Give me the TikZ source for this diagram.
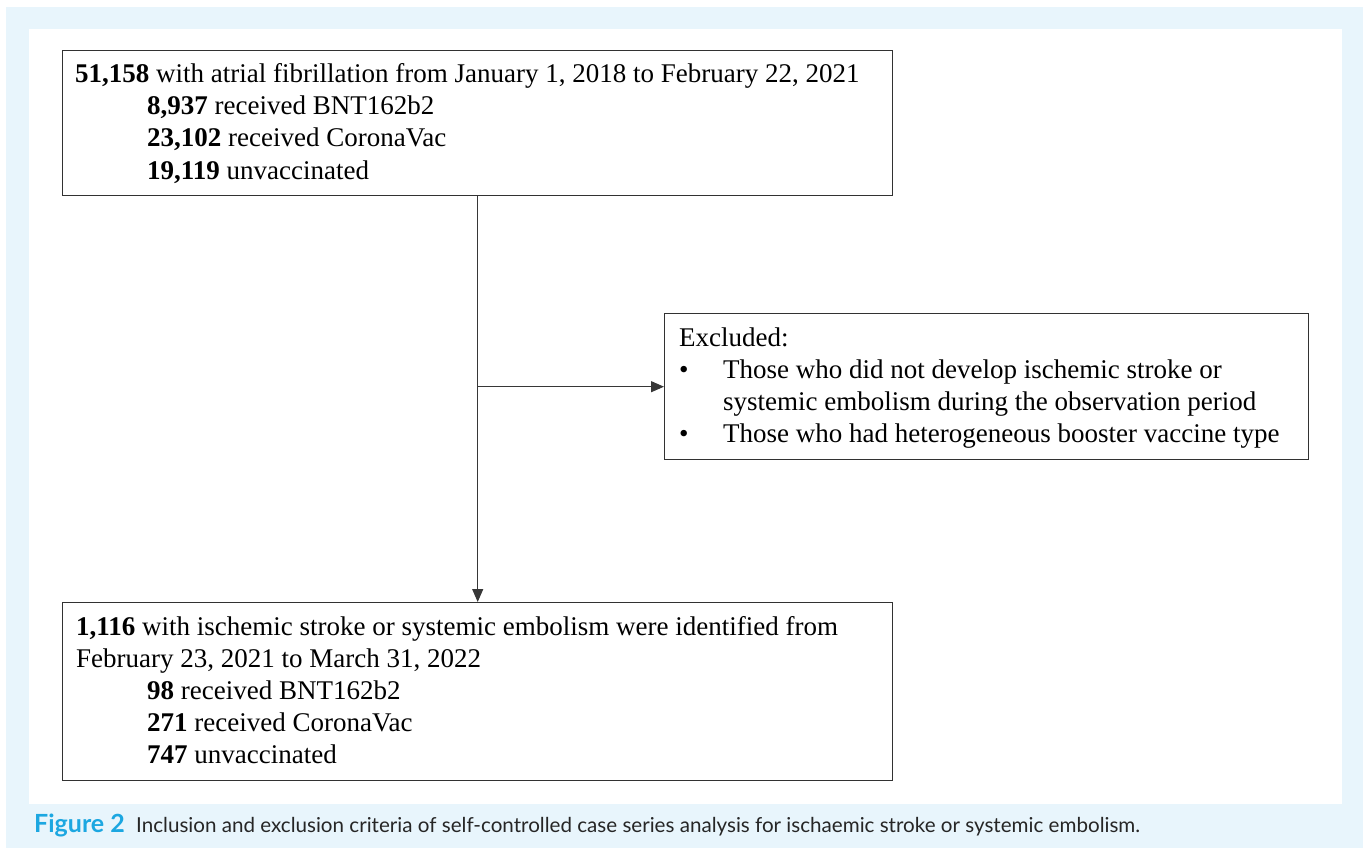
\documentclass[tikz,border=0pt]{standalone}
\usepackage{fontspec}
\setmainfont{Liberation Serif}
\newfontfamily\capfont{Lato}
\usetikzlibrary{arrows.meta}
\definecolor{bgblue}{RGB}{232,245,252}
\definecolor{capcyan}{RGB}{28,167,225}
\definecolor{boxline}{RGB}{50,50,50}
\definecolor{connline}{RGB}{55,55,55}
\tikzset{
  box/.style={draw=boxline, line width=1.4pt, fill=white, inner sep=0pt, anchor=north west},
  txt/.style={inner sep=0pt, anchor=base west, font=\fontsize{27}{32}\selectfont, text=black},
  captxt/.style={inner sep=0pt, anchor=base west, font=\capfont\fontsize{20.6}{26}\selectfont},
  conn/.style={draw=connline, line width=1.1pt, -{Triangle[length=13pt,width=11pt]}}
}
\begin{document}
\begin{tikzpicture}[x=1pt,y=-1pt]
\useasboundingbox (0,0) rectangle (1363,856);
\fill[white] (0,0) rectangle (1363,856);
\fill[bgblue] (6,7) rectangle (1363,848);
\fill[white] (29,29) rectangle (1342,804);

% boxes
\node[box, minimum width=830pt, minimum height=145pt] (top) at (62,50) {};
\node[box, minimum width=644pt, minimum height=146pt] (excl) at (664,313) {};
\node[box, minimum width=830pt, minimum height=178pt] (bot) at (62,602) {};

% top box text
\node[txt] (t1) at (75,83) {\textbf{51,158} with atrial fibrillation from January 1, 2018 to February 22, 2021};
\node[txt] (t2) at (147,115) {\textbf{8,937} received BNT162b2};
\node[txt] (t3) at (147,147) {\textbf{23,102} received CoronaVac};
\node[txt] (t4) at (147,179) {\textbf{19,119} unvaccinated};

% excluded box text
\node[txt] (e0) at (679,346) {Excluded:};
\node[txt] (eb1) at (679,378) {\textbullet};
\node[txt] (e1) at (723,378) {Those who did not develop ischemic stroke or};
\node[txt] (e2) at (723,410) {systemic embolism during the observation period};
\node[txt] (eb2) at (679,442) {\textbullet};
\node[txt] (e3) at (723,442) {Those who had heterogeneous booster vaccine type};

% bottom box text
\node[txt] (b1) at (76,635) {\textbf{1,116} with ischemic stroke or systemic embolism were identified from};
\node[txt] (b2) at (76,667) {February 23, 2021 to March 31, 2022};
\node[txt] (b3) at (147,699) {\textbf{98} received BNT162b2};
\node[txt] (b4) at (147,731) {\textbf{271} received CoronaVac};
\node[txt] (b5) at (147,763) {\textbf{747} unvaccinated};

% connectors
\coordinate (br) at (top.south |- excl.west);
\draw[conn] (top.south) -- (bot.north);
\draw[conn] (br) -- (excl.west);

% caption
\node[captxt, text=capcyan, font=\capfont\bfseries\fontsize{25}{28}\selectfont] (capA) at (34,832) {Figure 2};
\node[captxt, text=black!85] (capB) at (136,832) {Inclusion and exclusion criteria of self-controlled case series analysis for ischaemic stroke or systemic embolism.};
\end{tikzpicture}
\end{document}
